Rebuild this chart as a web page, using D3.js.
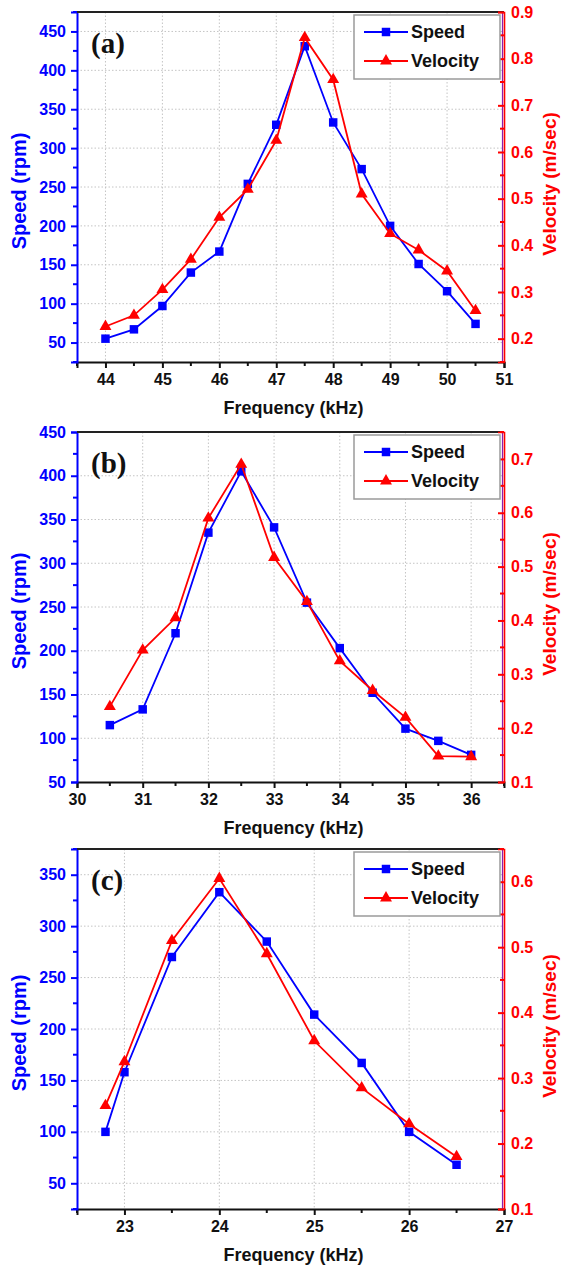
<!DOCTYPE html>
<html>
<head>
<meta charset="utf-8">
<script src="https://cdn.jsdelivr.net/npm/d3@7"></script>
<style>
  body { margin: 0; background: #fff; }
  svg { display: block; }
  text { font-family: "Liberation Sans", Arial, sans-serif; font-weight: bold; }
</style>
</head>
<body>
<div id="chart"></div>
<script>
// ---- data ----
// panel (a)
const freqA  = [44, 44.5, 45, 45.5, 46, 46.5, 47, 47.5, 48, 48.5, 49, 49.5, 50, 50.5];
const speedA = [55, 67, 97, 140, 167, 254, 330, 431, 333, 273, 200, 151, 116, 74];
const velA   = [0.226, 0.25, 0.305, 0.37, 0.46, 0.52, 0.625, 0.845, 0.755, 0.51, 0.425, 0.39, 0.345, 0.26];
const speedTicksA = [50, 100, 150, 200, 250, 300, 350, 400, 450];
const velTicksA   = [0.2, 0.3, 0.4, 0.5, 0.6, 0.7, 0.8, 0.9];
const freqTicksA  = [44, 45, 46, 47, 48, 49, 50, 51];

// panel (b)
const freqB  = [30.5, 31, 31.5, 32, 32.5, 33, 33.5, 34, 34.5, 35, 35.5, 36];
const speedB = [115, 133, 220, 335, 405, 341, 255, 203, 152, 111, 97, 81];
const velB   = [0.24, 0.345, 0.405, 0.59, 0.69, 0.517, 0.435, 0.325, 0.27, 0.22, 0.148, 0.147];
const speedTicksB = [50, 100, 150, 200, 250, 300, 350, 400, 450];
const velTicksB   = [0.1, 0.2, 0.3, 0.4, 0.5, 0.6, 0.7];
const freqTicksB  = [30, 31, 32, 33, 34, 35, 36];

// panel (c)
const freqC  = [22.8, 23, 23.5, 24, 24.5, 25, 25.5, 26, 26.5];
const speedC = [100, 158, 270, 333, 285, 214, 167, 100, 68];
const velC   = [0.258, 0.325, 0.51, 0.605, 0.49, 0.357, 0.285, 0.23, 0.18];
const speedTicksC = [50, 100, 150, 200, 250, 300, 350];
const velTicksC   = [0.1, 0.2, 0.3, 0.4, 0.5, 0.6];
const freqTicksC  = [23, 24, 25, 26, 27];

const seriesNames = ["Speed", "Velocity"];

const BLUE = "#0000ff", RED = "#ff0000";

const svg = d3.select("#chart").append("svg")
    .attr("width", 562)
    .attr("height", 1272);

function drawPanel(p) {
    let g = svg.append("g");

    let x = d3.scaleLinear().domain(p.xDomain).range([p.left, p.right]);
    let yL = d3.scaleLinear().domain(p.yDomain).range([p.bottom, p.top]);
    let yR = d3.scaleLinear().domain(p.vDomain).range([p.bottom, p.top]);

    // minor tick positions (half steps)
    let xMinor = d3.range(p.xDomain[0], p.xDomain[1] + 0.001, 0.5).filter(v => Math.abs(v - Math.round(v)) > 0.01);
    let yMinor = d3.range(p.yDomain[0], p.yDomain[1] + 0.001, 25).filter(v => v % 50 !== 0);
    let vMinor = d3.range(Math.round(p.vDomain[0] * 20), Math.round(p.vDomain[1] * 20) + 1)
        .filter(k => k % 2 === 1).map(k => k / 20);

    // grid
    g.append("g").selectAll("line").data(p.freqTicks.filter(v => v > p.xDomain[0] && v < p.xDomain[1]))
        .join("line")
        .attr("x1", d => x(d)).attr("x2", d => x(d))
        .attr("y1", p.top).attr("y2", p.bottom)
        .attr("stroke", "#c4c4c4").attr("stroke-width", 1).attr("stroke-dasharray", "1.5,2");
    g.append("g").selectAll("line").data(p.speedTicks.filter(v => v > p.yDomain[0] && v < p.yDomain[1]))
        .join("line")
        .attr("x1", p.left).attr("x2", p.right)
        .attr("y1", d => yL(d)).attr("y2", d => yL(d))
        .attr("stroke", "#c4c4c4").attr("stroke-width", 1).attr("stroke-dasharray", "1.5,2");

    // bottom axis
    let xAxis = g.append("g")
        .attr("transform", `translate(0,${p.bottom})`)
        .call(d3.axisBottom(x).tickValues(p.freqTicks).tickSize(6).tickPadding(6).tickFormat(d3.format("d")));
    xAxis.append("g").selectAll("line").data(xMinor).join("line")
        .attr("x1", d => x(d)).attr("x2", d => x(d)).attr("y1", 0).attr("y2", 4);
    xAxis.selectAll("line").attr("stroke", "#111").attr("stroke-width", 2);
    xAxis.select(".domain").attr("stroke", "#111").attr("stroke-width", 2);
    xAxis.selectAll("text").attr("fill", "#111").style("font-size", "16px");

    // left axis
    let lAxis = g.append("g")
        .attr("transform", `translate(${p.left},0)`)
        .call(d3.axisLeft(yL).tickValues(p.speedTicks).tickSize(6).tickPadding(5));
    lAxis.append("g").selectAll("line").data(yMinor).join("line")
        .attr("x1", 0).attr("x2", -4).attr("y1", d => yL(d)).attr("y2", d => yL(d));
    lAxis.selectAll("line").attr("stroke", BLUE).attr("stroke-width", 2);
    lAxis.select(".domain").attr("stroke", BLUE).attr("stroke-width", 2);
    lAxis.selectAll("text").attr("fill", BLUE).style("font-size", "16px");

    // top frame
    g.append("line")
        .attr("x1", p.left).attr("x2", p.right)
        .attr("y1", p.top).attr("y2", p.top)
        .attr("stroke", "#222").attr("stroke-width", 2);

    // right axis (ticks point inward)
    g.append("line")
        .attr("x1", p.right - 1.5).attr("x2", p.right - 1.5)
        .attr("y1", p.top).attr("y2", p.bottom)
        .attr("stroke", "#8a1fb0").attr("stroke-width", 1.2);
    let rAxis = g.append("g")
        .attr("transform", `translate(${p.right},0)`)
        .call(d3.axisRight(yR).tickValues(p.velTicks).tickSize(-6).tickPadding(7).tickFormat(d3.format(".1f")));
    rAxis.append("g").selectAll("line").data(vMinor).join("line")
        .attr("x1", 0).attr("x2", -4).attr("y1", d => yR(d)).attr("y2", d => yR(d));
    rAxis.selectAll("line").attr("stroke", RED).attr("stroke-width", 2);
    rAxis.select(".domain").attr("stroke", RED).attr("stroke-width", 1.6);
    rAxis.selectAll("text").attr("fill", RED).style("font-size", "16px");

    // axis titles
    g.append("text")
        .attr("x", (p.left + p.right) / 2 + 3).attr("y", p.bottom + 52)
        .attr("text-anchor", "middle").attr("fill", "#111")
        .style("font-size", "18px")
        .text("Frequency (kHz)");
    g.append("text")
        .attr("transform", `translate(26,${(p.top + p.bottom) / 2 + 4}) rotate(-90)`)
        .attr("text-anchor", "middle").attr("fill", BLUE)
        .style("font-size", "20px")
        .text("Speed (rpm)");
    g.append("text")
        .attr("transform", `translate(556,${(p.top + p.bottom) / 2 - 3}) rotate(-90)`)
        .attr("text-anchor", "middle").attr("fill", RED)
        .style("font-size", "19px")
        .text("Velocity (m/sec)");

    // panel label
    g.append("text")
        .attr("x", p.left + 14).attr("y", p.top + 41)
        .attr("fill", "#111")
        .style("font-family", "'Liberation Serif', 'Times New Roman', serif")
        .style("font-size", "29px")
        .text(p.label);

    // series
    let speedPts = p.freq.map((f, i) => [f, p.speed[i]]);
    let velPts = p.freq.map((f, i) => [f, p.vel[i]]);

    g.append("path").datum(speedPts)
        .attr("fill", "none").attr("stroke", BLUE).attr("stroke-width", 1.8)
        .attr("d", d3.line().x(d => x(d[0])).y(d => yL(d[1])));
    g.append("g").selectAll("path").data(speedPts).join("path")
        .attr("transform", d => `translate(${x(d[0])},${yL(d[1])})`)
        .attr("d", d3.symbol(d3.symbolSquare, 72))
        .attr("fill", BLUE);

    g.append("path").datum(velPts)
        .attr("fill", "none").attr("stroke", RED).attr("stroke-width", 1.8)
        .attr("d", d3.line().x(d => x(d[0])).y(d => yR(d[1])));
    g.append("g").selectAll("path").data(velPts).join("path")
        .attr("transform", d => `translate(${x(d[0])},${yR(d[1])})`)
        .attr("d", d3.symbol(d3.symbolTriangle, 62))
        .attr("fill", RED);

    // legend
    let lg = g.append("g").attr("transform", `translate(354,${p.top + 3})`);
    lg.append("rect")
        .attr("width", 146).attr("height", 64)
        .attr("fill", "#fff").attr("stroke", "#9a9a9a").attr("stroke-width", 1.5);
    let colors = [BLUE, RED];
    let shapes = [d3.symbol(d3.symbolSquare, 72), d3.symbol(d3.symbolTriangle, 62)];
    seriesNames.forEach((name, i) => {
        let yy = 17 + i * 29;
        lg.append("line")
            .attr("x1", 10).attr("x2", 54).attr("y1", yy).attr("y2", yy)
            .attr("stroke", colors[i]).attr("stroke-width", 1.8);
        lg.append("path")
            .attr("transform", `translate(32,${yy})`)
            .attr("d", shapes[i]).attr("fill", colors[i]);
        lg.append("text")
            .attr("x", 57).attr("y", yy + 6)
            .attr("fill", "#111").style("font-size", "18px")
            .text(name);
    });
}

drawPanel({
    label: "(a)", left: 77, right: 504, top: 12, bottom: 362,
    xDomain: [43.5, 51], yDomain: [25, 475], vDomain: [0.15, 0.9],
    freq: freqA, speed: speedA, vel: velA,
    speedTicks: speedTicksA, velTicks: velTicksA, freqTicks: freqTicksA
});
drawPanel({
    label: "(b)", left: 77, right: 504, top: 432, bottom: 782,
    xDomain: [30, 36.5], yDomain: [50, 450], vDomain: [0.1, 0.75],
    freq: freqB, speed: speedB, vel: velB,
    speedTicks: speedTicksB, velTicks: velTicksB, freqTicks: freqTicksB
});
drawPanel({
    label: "(c)", left: 77, right: 504, top: 849, bottom: 1209,
    xDomain: [22.5, 27], yDomain: [25, 375], vDomain: [0.1, 0.65],
    freq: freqC, speed: speedC, vel: velC,
    speedTicks: speedTicksC, velTicks: velTicksC, freqTicks: freqTicksC
});
</script>
</body>
</html>
